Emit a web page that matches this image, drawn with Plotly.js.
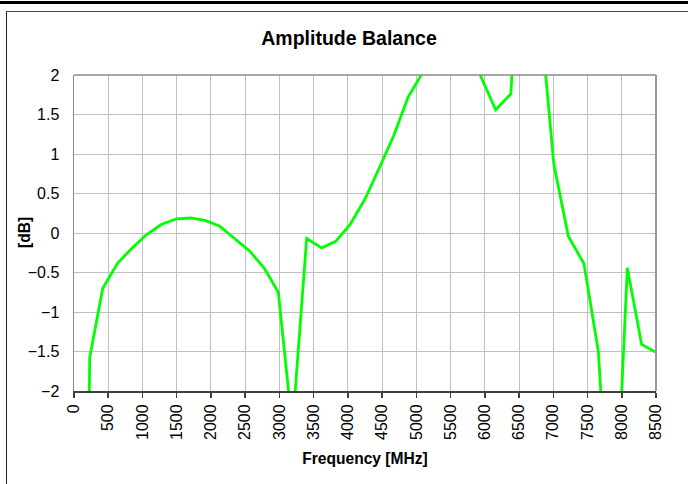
<!DOCTYPE html>
<html>
<head>
<meta charset="utf-8">
<script src="https://cdn.plot.ly/plotly-3.0.1.min.js"></script>
<style>
  html, body { margin: 0; padding: 0; background: #fff; }
  #wrap { position: relative; width: 688px; height: 484px; overflow: hidden; }
  #chart { position: absolute; left: 0; top: 0; width: 688px; height: 484px; }
  #topbar { position: absolute; left: 0; top: 1px; width: 688px; height: 3px; background: #000; z-index: 2; }
  #frame { position: absolute; left: 6px; top: 11px; width: 720px; height: 520px;
           border-left: 1.5px solid #222; border-top: 1.5px solid #444; z-index: 2; pointer-events: none; }
</style>
</head>
<body>
<div id="wrap">
  <div id="chart"></div>
  <div id="topbar"></div>
  <div id="frame"></div>
</div>
<script>
// Frequency [MHz]
const freq = [15, 229, 420, 638, 850, 1061, 1280, 1499, 1704, 1913, 2123, 2340, 2556, 2775, 2984,
              3190, 3398, 3617, 3822, 4031, 4250, 4457, 4669, 4880, 5092, 5303, 5515, 5727, 5945,
              6158, 6380, 6582, 6794, 7008, 7220, 7448, 7658, 7870, 8081, 8290, 8500];
// Amplitude balance [dB]
const balance = [-20, -1.58, -0.70, -0.38, -0.19, -0.02, 0.11, 0.18, 0.19, 0.16, 0.09, -0.06, -0.22, -0.44, -0.75,
                 -2.47, -0.07, -0.19, -0.105, 0.105, 0.43, 0.82, 1.23, 1.72, 2.03, 2.4, 2.6, 2.4, 1.97,
                 1.56, 1.76, 5.0, 2.9, 0.87, -0.04, -0.39, -1.50, -4.5, -0.44, -1.41, -1.51];

const xTicks = [0, 500, 1000, 1500, 2000, 2500, 3000, 3500, 4000, 4500, 5000, 5500, 6000, 6500, 7000, 7500, 8000, 8500];
const yTicks = [-2, -1.5, -1, -0.5, 0, 0.5, 1, 1.5, 2];

const font = "Liberation Sans, Arial, sans-serif";

const trace = {
  x: freq, y: balance, type: 'scatter', mode: 'lines',
  line: { color: '#00ff00', width: 2.8 },
  hoverinfo: 'skip'
};

const layout = {
  width: 688, height: 484,
  margin: { l: 74, r: 32, t: 75, b: 93 },
  paper_bgcolor: '#ffffff', plot_bgcolor: '#ffffff',
  showlegend: false,
  font: { family: font, color: '#000' },
  title: {
    text: '<b>Amplitude Balance</b>',
    font: { family: font, size: 19.5, color: '#000' },
    xref: 'container', x: 349 / 688, xanchor: 'center',
    yref: 'container', y: 1 - 38.5 / 484, yanchor: 'middle'
  },
  xaxis: {
    range: [0, 8500],
    tickmode: 'array', tickvals: xTicks, ticktext: xTicks.map(String),
    tickangle: -90,
    ticks: 'outside', ticklen: 5, tickwidth: 1.5, tickcolor: '#404040',
    tickfont: { family: font, size: 16, color: '#000' },
    showgrid: true, gridcolor: '#c0c0c0', gridwidth: 1,
    showline: true, linecolor: '#404040', linewidth: 2,
    zeroline: false,
    title: { text: '<b>Frequency [MHz]</b>', font: { family: font, size: 15.6, color: '#000' }, standoff: 14 }
  },
  yaxis: {
    range: [-2, 2],
    tickmode: 'array', tickvals: yTicks,
    ticks: '', ticklabelstandoff: 10,
    tickfont: { family: font, size: 16, color: '#000' },
    showgrid: true, gridcolor: '#c0c0c0', gridwidth: 1,
    showline: true, linecolor: '#8a8a8a', linewidth: 1.5,
    zeroline: false
  },
  annotations: [
    { text: '<b>[dB]</b>', textangle: -90, showarrow: false,
      xref: 'paper', yref: 'paper', x: (24 - 74) / 582, y: 0.5,
      xanchor: 'center', yanchor: 'middle',
      font: { family: font, size: 15.6, color: '#000' } }
  ],
  shapes: [
    { type: 'line', xref: 'paper', yref: 'paper', x0: 0, x1: 1, y0: 1, y1: 1, line: { color: '#8a8a8a', width: 1.5 }, layer: 'above' },
    { type: 'line', xref: 'paper', yref: 'paper', x0: 1, x1: 1, y0: 0, y1: 1, line: { color: '#9a9a9a', width: 2 }, layer: 'above' }
  ]
};

Plotly.newPlot('chart', [trace], layout, { displayModeBar: false, staticPlot: true });
</script>
</body>
</html>
